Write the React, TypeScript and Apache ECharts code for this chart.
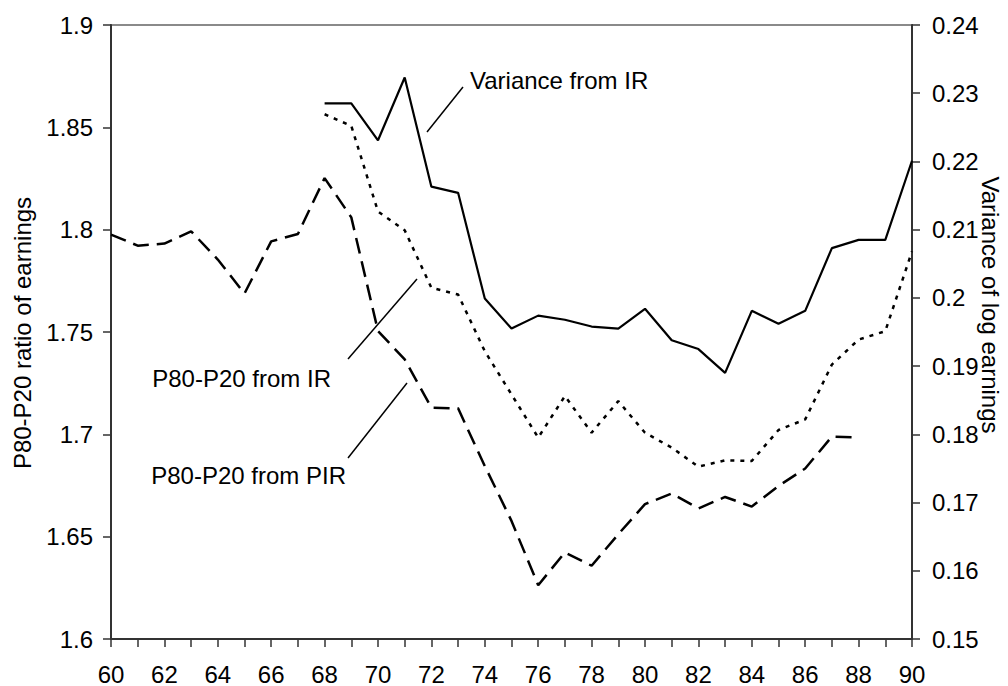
import React, { useEffect, useRef } from "react";
import * as echarts from "echarts";

// Years (19xx) shown on the category axis
const years: string[] = [
  "60", "61", "62", "63", "64", "65", "66", "67", "68", "69",
  "70", "71", "72", "73", "74", "75", "76", "77", "78", "79",
  "80", "81", "82", "83", "84", "85", "86", "87", "88", "89", "90",
];

// P80-P20 ratio from PIR, 1960-1988 (left axis)
const pirStartYear = "60";
const p8020FromPIR: number[] = [
  1.7976, 1.7922, 1.7932, 1.7992, 1.7854, 1.7688, 1.7943, 1.7979, 1.8252, 1.806,
  1.7505, 1.7366, 1.713, 1.7127, 1.6845, 1.6577, 1.6263, 1.6423, 1.6358, 1.6512,
  1.6659, 1.6711, 1.6638, 1.6694, 1.6647, 1.6748, 1.6833, 1.6989, 1.6984,
];

// P80-P20 ratio from IR, 1968-1990 (left axis)
const irStartYear = "68";
const p8020FromIR: number[] = [
  1.8564, 1.8507, 1.8089, 1.7997, 1.7716, 1.7683, 1.7406, 1.7195, 1.6984, 1.7187,
  1.7008, 1.7162, 1.7008, 1.6935, 1.6842, 1.6873, 1.687, 1.7021, 1.7073, 1.7341,
  1.7463, 1.7504, 1.7894,
];

// Variance of log earnings from IR, 1968-1990 (right axis)
const varStartYear = "68";
const varianceFromIR: number[] = [
  0.2285, 0.2285, 0.2231, 0.2323, 0.2163, 0.2154, 0.1999, 0.1955, 0.1974, 0.1968,
  0.1958, 0.1955, 0.1984, 0.1938, 0.1925, 0.189, 0.1981, 0.1962, 0.1981, 0.2073,
  0.2085, 0.2085, 0.2201,
];

const leftAxisTitle = "P80-P20 ratio of earnings";
const rightAxisTitle = "Variance of log earnings";
const labelVariance = "Variance from IR";
const labelIR = "P80-P20 from IR";
const labelPIR = "P80-P20 from PIR";

function pad(start: string, values: number[]): (number | null)[] {
  const offset = years.indexOf(start);
  return years.map((_, i) => {
    const k = i - offset;
    return k >= 0 && k < values.length ? values[k] : null;
  });
}

const FONT = "'Liberation Sans', Arial, sans-serif";
const FS = 24;

export default function App() {
  const ref = useRef<HTMLDivElement>(null);

  useEffect(() => {
    if (!ref.current) return;
    const chart = echarts.init(ref.current, undefined, { renderer: "svg" });
    const fmt = (v: number) => String(+v.toFixed(2));
    chart.setOption({
      animation: false,
      backgroundColor: "#ffffff",
      grid: {
        left: 111,
        right: 96,
        top: 25,
        bottom: 46,
        show: true,
        borderColor: "#8a8a8a",
        borderWidth: 2,
        backgroundColor: "transparent",
      },
      xAxis: {
        type: "category",
        data: years,
        boundaryGap: false,
        axisLine: { lineStyle: { color: "#333333", width: 2 } },
        axisTick: { show: true, length: 8, interval: 0, lineStyle: { color: "#333333", width: 1.5 } },
        axisLabel: {
          interval: 1,
          margin: 23,
          color: "#000",
          fontFamily: FONT,
          fontSize: FS,
        },
        splitLine: { show: false },
      },
      yAxis: [
        {
          type: "value",
          min: 1.6,
          max: 1.9,
          interval: 0.05,
          position: "left",
          axisLine: { show: true, lineStyle: { color: "#333333", width: 2 } },
          axisTick: { show: true, length: 8, lineStyle: { color: "#333333", width: 1.5 } },
          axisLabel: { formatter: fmt, margin: 18, color: "#000", fontFamily: FONT, fontSize: FS },
          splitLine: { show: false },
        },
        {
          type: "value",
          min: 0.15,
          max: 0.24,
          interval: 0.01,
          position: "right",
          axisLine: { show: true, lineStyle: { color: "#333333", width: 2 } },
          axisTick: { show: true, length: 8, lineStyle: { color: "#333333", width: 1.5 } },
          axisLabel: { formatter: fmt, margin: 20, color: "#000", fontFamily: FONT, fontSize: FS },
          splitLine: { show: false },
        },
      ],
      series: [
        {
          name: labelPIR,
          type: "line",
          yAxisIndex: 0,
          data: pad(pirStartYear, p8020FromPIR),
          showSymbol: false,
          symbol: "none",
          lineStyle: { color: "#000", width: 2.5, type: [16, 8] },
          connectNulls: false,
        },
        {
          name: labelIR,
          type: "line",
          yAxisIndex: 0,
          data: pad(irStartYear, p8020FromIR),
          showSymbol: false,
          symbol: "none",
          lineStyle: { color: "#000", width: 2.5, type: [4, 6] },
        },
        {
          name: labelVariance,
          type: "line",
          yAxisIndex: 1,
          data: pad(varStartYear, varianceFromIR),
          showSymbol: false,
          symbol: "none",
          lineStyle: { color: "#000", width: 2.2, type: "solid" },
        },
      ],
      graphic: [
        {
          type: "text",
          x: 22,
          y: 333,
          rotation: Math.PI / 2,
          style: { text: leftAxisTitle, font: `${FS}px ${FONT}`, fill: "#000", align: "center", verticalAlign: "middle" },
        },
        {
          type: "text",
          x: 990,
          y: 305,
          rotation: -Math.PI / 2,
          style: { text: rightAxisTitle, font: `${FS}px ${FONT}`, fill: "#000", align: "center", verticalAlign: "middle" },
        },
        {
          type: "text",
          x: 470,
          y: 80,
          style: { text: labelVariance, font: `${FS}px ${FONT}`, fill: "#000", align: "left", verticalAlign: "middle" },
        },
        {
          type: "line",
          shape: { x1: 463, y1: 87, x2: 427, y2: 132 },
          style: { stroke: "#000", lineWidth: 1.5 },
        },
        {
          type: "text",
          x: 331,
          y: 378,
          style: { text: labelIR, font: `${FS}px ${FONT}`, fill: "#000", align: "right", verticalAlign: "middle" },
        },
        {
          type: "line",
          shape: { x1: 348, y1: 359, x2: 417, y2: 279 },
          style: { stroke: "#000", lineWidth: 1.5 },
        },
        {
          type: "text",
          x: 346,
          y: 475,
          style: { text: labelPIR, font: `${FS}px ${FONT}`, fill: "#000", align: "right", verticalAlign: "middle" },
        },
        {
          type: "line",
          shape: { x1: 348, y1: 458, x2: 407, y2: 383 },
          style: { stroke: "#000", lineWidth: 1.5 },
        },
      ],
    });
    return () => chart.dispose();
  }, []);

  return (
    <div
      ref={ref}
      style={{ position: "absolute", left: 0, top: 0, width: 1008, height: 686 }}
    />
  );
}
